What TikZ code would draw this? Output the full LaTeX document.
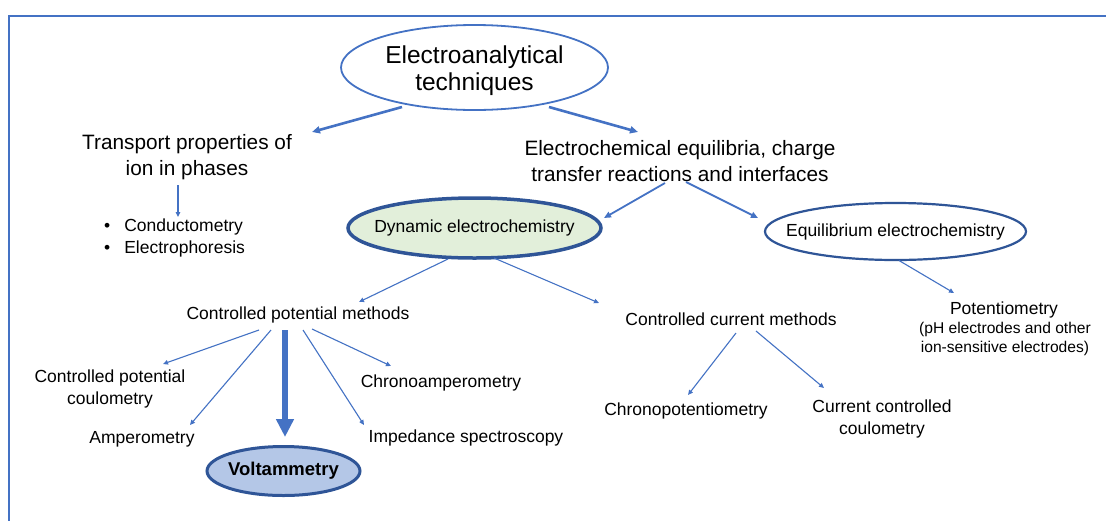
\documentclass[tikz,border=0pt]{standalone}
\usepackage{fontspec}
\setmainfont{Liberation Sans}
\usetikzlibrary{arrows.meta,shapes.geometric,calc}
\definecolor{ablue}{HTML}{4472C4}
\definecolor{dblue}{HTML}{2F5597}
\definecolor{gfill}{HTML}{E2EFDA}
\definecolor{vfill}{HTML}{B4C7E7}
\begin{document}
\begin{tikzpicture}[x=1pt,y=-1pt,
  txt/.style={inner sep=0pt, align=center, text=black},
  fbig/.style={font=\fontsize{24.5}{27.5}\selectfont},
  fmid/.style={font=\fontsize{20.8}{25.5}\selectfont},
  fsm/.style={font=\fontsize{17.5}{22}\selectfont},
  fxs/.style={font=\fontsize{15.6}{18.5}\selectfont},
  oval/.style={ellipse, inner sep=0pt},
  arr/.style={draw=ablue, line width=1.1pt, -{Triangle[length=5pt,width=4.5pt]}},
  arrmid/.style={draw=ablue, line width=1.8pt, -{Triangle[length=7pt,width=6pt]}},
  arrbig/.style={draw=ablue, line width=2.6pt, -{Triangle[length=8pt,width=7pt]}},
  arrhuge/.style={draw=ablue, line width=6.5pt, -{Triangle[length=18pt,width=17pt]}}
]
\useasboundingbox (0,0) rectangle (1106,520);
\clip (0,0) rectangle (1106,520);
\fill[white] (0,0) rectangle (1106,520);
% frame
\draw[ablue, line width=2.4pt] (9,540) -- (9,16) -- (1130,16);

% nodes
\node[oval, draw=ablue, line width=1.8pt, minimum width=267, minimum height=85,
      label={[txt,fbig,yshift=-3pt]center:Electroanalytical\\techniques}] (top) at (474.5,67.5) {};
\node[txt,fmid] (trans) at (187,157) {Transport properties of\\ion in phases};
\node[txt,fsm,align=left,anchor=west] (bul) at (104,238)
  {•\hspace{14pt}Conductometry\\•\hspace{14pt}Electrophoresis};
\node[txt,fmid] (echem) at (680,161) {Electrochemical equilibria, charge\\transfer reactions and interfaces};
\node[oval, draw=dblue, fill=gfill, line width=3.5pt, minimum width=253, minimum height=60,
      label={[txt,fsm]center:Dynamic electrochemistry}] (dyn) at (474.5,228) {};
\node[oval, draw=dblue, line width=2.2pt, minimum width=261, minimum height=57,
      label={[txt,fsm]center:Equilibrium electrochemistry}] (equ) at (895.5,231.5) {};
\node[txt,fsm] (pot) at (1004,310) {Potentiometry};
\node[txt,fxs] (potsub) at (1005,339) {(pH electrodes and other\\ion-sensitive electrodes)};
\node[txt,fsm] (cpm) at (298,315) {Controlled potential methods};
\node[txt,fsm] (ccm) at (731,319) {Controlled current methods};
\node[txt,fsm] (cpc) at (110,389) {Controlled potential\\coulometry};
\node[txt,fsm] (amp) at (142,439) {Amperometry};
\node[oval, draw=dblue, fill=vfill, line width=3pt, minimum width=153, minimum height=49,
      label={[txt,font=\fontsize{18.5}{22}\selectfont\bfseries]center:Voltammetry}] (volt) at (283.5,471) {};
\node[txt,fsm] (chrono) at (441,383) {Chronoamperometry};
\node[txt,fsm] (imp) at (466,438) {Impedance spectroscopy};
\node[txt,fsm] (chronop) at (686,411) {Chronopotentiometry};
\node[txt,fsm] (ccc) at (882,419) {Current controlled\\coulometry};

% connectors
\draw[arrbig] ($(top.center)+(-72.5,39.5)$) -- ($(trans.center)+(125,-25)$);
\draw[arrbig] ($(top.center)+(74.5,39.5)$) -- ($(echem.center)+(-42,-29)$);
\draw[arr] ($(trans.center)+(-9,28)$) -- ($(bul.west)+(74,-21)$);
\draw[arrmid] ($(echem.center)+(-15,22)$) -- ($(dyn.center)+(129.5,-10)$);
\draw[arrmid] ($(echem.center)+(6,21)$) -- ($(equ.center)+(-137.5,-13.5)$);
\draw[arr] ($(dyn.center)+(-26.5,31)$) -- ($(cpm.center)+(61,-13)$);
\draw[arr] ($(dyn.center)+(19.5,30)$) -- ($(ccm.center)+(-132,-16)$);
\draw[arr] ($(equ.center)+(3.5,29)$) -- ($(pot.center)+(-50,-17)$);
\draw[arr] ($(cpm.center)+(-39,15)$) -- ($(cpc.center)+(53,-25)$);
\draw[arr] ($(cpm.center)+(-27,15)$) -- ($(amp.center)+(48,-14)$);
\draw[arrhuge] ($(cpm.center)+(-13,15)$) -- ($(volt.center)+(1.5,-34)$);
\draw[arr] ($(cpm.center)+(5,15)$) -- ($(imp.center)+(-102,-13)$);
\draw[arr] ($(cpm.center)+(14,14)$) -- ($(chrono.center)+(-50,-17)$);
\draw[arr] ($(ccm.center)+(5,14)$) -- ($(chronop.center)+(2,-16)$);
\draw[arr] ($(ccm.center)+(25,12)$) -- ($(ccc.center)+(-58,-31)$);
\end{tikzpicture}
\end{document}
